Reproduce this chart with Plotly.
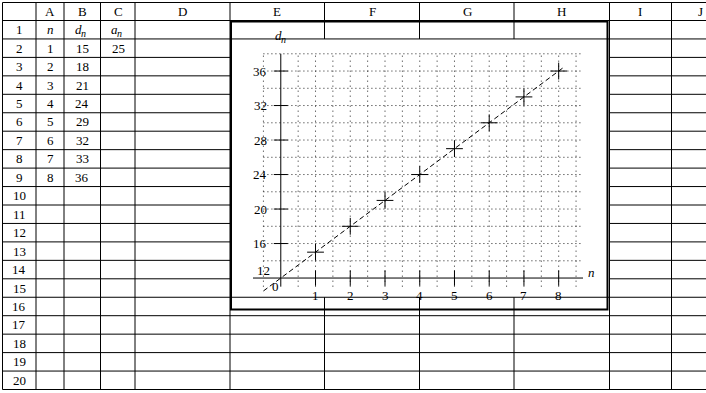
import plotly.graph_objects as go

# ---------------- data ----------------
col_letters = ["A", "B", "C", "D", "E", "F", "G", "H", "I", "J"]
row_numbers = list(range(1, 21))
n_values = [1, 2, 3, 4, 5, 6, 7, 8]
d_table = [15, 18, 21, 24, 29, 32, 33, 36]
a_table = [25]
d_plot = [15, 18, 21, 24, 27, 30, 33, 36]
trend_n = [-0.5, 8.15]
trend_d = [10.5, 36.45]
x_tick_vals = [1, 2, 3, 4, 5, 6, 7, 8]
y_tick_vals = [16, 20, 24, 28, 32, 36]
grid_n = [-0.5, 0.5, 1, 1.5, 2, 2.5, 3, 3.5, 4, 4.5, 5, 5.5, 6, 6.5, 7, 7.5, 8, 8.5]
grid_d = [14, 16, 18, 20, 22, 24, 26, 28, 30, 32, 34, 36, 38]

# ---------------- layout geometry ----------------
W, H = 706, 393
FONT = "Liberation Serif"


def px(x):
    return x / W


def py(y):
    return 1 - y / H


col_edges = [2.5, 36, 64, 100.5, 135, 230, 324.5, 419.5, 514, 609.5, 671.5]
col_centers = [50, 82, 118, 182.5, 277, 372, 467, 561.5, 640, 700]
top, head_bot, row_h = 2.5, 20.5, 18.45
row_edges = [top, head_bot] + [head_bot + row_h * k for k in range(1, 21)]
bottom = row_edges[-1]
chart_l, chart_r = 230, 609.5

shapes = []


def hline(x0, x1, y, w=1):
    shapes.append(dict(type="line", xref="paper", yref="paper",
                       x0=px(x0), x1=px(x1), y0=py(y), y1=py(y),
                       line=dict(color="black", width=w), layer="below"))


def vline(x, y0, y1, w=1):
    shapes.append(dict(type="line", xref="paper", yref="paper",
                       x0=px(x), x1=px(x), y0=py(y0), y1=py(y1),
                       line=dict(color="black", width=w), layer="below"))


for i, y in enumerate(row_edges):
    if 3 <= i <= 15:
        hline(col_edges[0], chart_l, y)
        hline(chart_r, W, y)
    else:
        hline(col_edges[0], W, y)

for j, x in enumerate(col_edges):
    if j in (6, 7, 8):
        vline(x, top, row_edges[2])
        vline(x, row_edges[16], bottom)
    else:
        vline(x, top, bottom)

# chart frame
shapes.append(dict(type="rect", xref="paper", yref="paper",
                   x0=px(231), x1=px(607.5), y0=py(309.5), y1=py(21.5),
                   line=dict(color="black", width=2), fillcolor="rgba(0,0,0,0)",
                   layer="below"))

annotations = []
base_font = dict(family=FONT, size=13, color="black")
ital_font = dict(family=FONT, size=13, color="black", style="italic")
sub_font = dict(family=FONT, size=10, color="black", style="italic")


def cell_text(x, y, text, font=base_font):
    annotations.append(dict(xref="paper", yref="paper", x=px(x), y=py(y),
                            text=text, showarrow=False, xanchor="center",
                            yanchor="middle", font=font))


def sub_label(xref, yref, x, y, main, sub, xshift=0, yshift=0):
    annotations.append(dict(xref=xref, yref=yref, x=x, y=y, text=main,
                            showarrow=False, xanchor="right", yanchor="middle",
                            borderpad=0, borderwidth=0,
                            xshift=xshift + 1, yshift=yshift, font=ital_font))
    annotations.append(dict(xref=xref, yref=yref, x=x, y=y, text=sub,
                            showarrow=False, xanchor="left", yanchor="middle",
                            borderpad=0, borderwidth=0,
                            xshift=xshift, yshift=yshift - 4, font=sub_font))


def row_center(r):
    return head_bot + row_h * (r - 0.5)


for c, L in zip(col_centers, col_letters):
    cell_text(c, (top + head_bot) / 2, L)
for r in row_numbers:
    cell_text(19.25, row_center(r), str(r))

cell_text(col_centers[0], row_center(1), "n", ital_font)
sub_label("paper", "paper", px(col_centers[1]), py(row_center(1)), "d", "n", xshift=-1)
sub_label("paper", "paper", px(col_centers[2]), py(row_center(1)), "a", "n", xshift=-1)
for k, (nv, dv) in enumerate(zip(n_values, d_table)):
    cell_text(col_centers[0], row_center(k + 2), str(nv))
    cell_text(col_centers[1], row_center(k + 2), str(dv))
for k, av in enumerate(a_table):
    cell_text(col_centers[2], row_center(k + 2), str(av))

# ---------------- chart ----------------
x_rng = [-0.8, 8.7]
x_px = [253, 583]
y_rng = [10.3, 38.3]
y_px = [292.7, 51.2]

for d in grid_d:
    shapes.append(dict(type="line", xref="x", yref="y", x0=-0.5, x1=8.7, y0=d, y1=d,
                       line=dict(color="#222", width=1, dash="1px,3px"), layer="below"))
for g in grid_n:
    shapes.append(dict(type="line", xref="x", yref="y", x0=g, x1=g, y0=11, y1=38,
                       line=dict(color="#222", width=1, dash="1px,4px"), layer="below"))
# axis lines
shapes.append(dict(type="line", xref="x", yref="y", x0=-0.8, x1=8.7, y0=12, y1=12,
                   line=dict(color="black", width=1), layer="below"))
shapes.append(dict(type="line", xref="x", yref="y", x0=0, x1=0, y0=11, y1=38,
                   line=dict(color="black", width=1), layer="below"))

fig = go.Figure()
fig.add_trace(go.Scatter(x=trend_n, y=trend_d, mode="lines",
                         line=dict(color="black", width=1, dash="5px,3px"),
                         hoverinfo="skip", showlegend=False))
fig.add_trace(go.Scatter(x=n_values, y=d_plot, mode="markers",
                         marker=dict(symbol="cross-thin", size=12,
                                     line=dict(color="black", width=1)),
                         showlegend=False, cliponaxis=False))
fig.add_trace(go.Scatter(x=x_tick_vals, y=[12] * len(x_tick_vals), mode="markers",
                         marker=dict(symbol="line-ns", size=11,
                                     line=dict(color="black", width=1)),
                         showlegend=False, hoverinfo="skip", cliponaxis=False))
fig.add_trace(go.Scatter(x=[0] * len(y_tick_vals), y=y_tick_vals, mode="markers",
                         marker=dict(symbol="line-ew", size=10,
                                     line=dict(color="black", width=1)),
                         showlegend=False, hoverinfo="skip", cliponaxis=False))

for v in x_tick_vals:
    annotations.append(dict(xref="x", yref="y", x=v, y=12, text=str(v),
                            showarrow=False, xanchor="center", yanchor="middle",
                            yshift=-17, font=base_font))
for v in y_tick_vals:
    annotations.append(dict(xref="x", yref="y", x=0, y=v, text=str(v),
                            showarrow=False, xanchor="right", yanchor="middle",
                            xshift=-12, font=base_font))
annotations.append(dict(xref="x", yref="y", x=0, y=12, text="12", showarrow=False,
                        xanchor="right", yanchor="middle", xshift=-9, yshift=8,
                        font=base_font))
annotations.append(dict(xref="x", yref="y", x=0, y=12, text="0", showarrow=False,
                        xanchor="center", yanchor="middle", xshift=-5, yshift=-8.5,
                        font=base_font))
annotations.append(dict(xref="x", yref="y", x=8.7, y=12, text="n",
                        showarrow=False, xanchor="left", yanchor="middle",
                        xshift=3, yshift=6, font=ital_font))
sub_label("x", "y", 0, 38, "d", "n", xshift=0, yshift=18)

fig.update_layout(
    width=W, height=H, autosize=False,
    margin=dict(l=0, r=0, t=0, b=0, pad=0),
    paper_bgcolor="white", plot_bgcolor="rgba(0,0,0,0)",
    xaxis=dict(range=x_rng, domain=[px(x_px[0]), px(x_px[1])], visible=False,
               fixedrange=True),
    yaxis=dict(range=y_rng, domain=[py(y_px[0]), py(y_px[1])], visible=False,
               fixedrange=True),
    shapes=shapes, annotations=annotations, showlegend=False,
)

fig.write_html("out.html")
